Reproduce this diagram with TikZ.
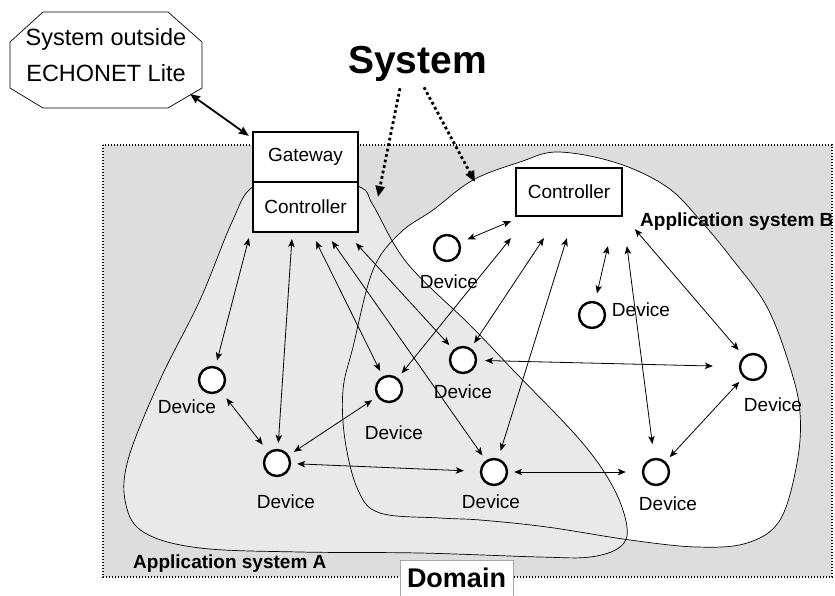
\documentclass[tikz,border=0pt]{standalone}
\usepackage{fontspec}
\setmainfont{Liberation Sans}
\usetikzlibrary{arrows.meta,calc}
\definecolor{domfill}{RGB}{221,221,221}
\definecolor{afill}{RGB}{233,233,233}
\begin{document}
\begin{tikzpicture}[x=1pt,y=-1pt,
  conn/.style={line width=0.8pt,
    {Stealth[length=8pt,width=6.5pt,inset=2pt]}-{Stealth[length=8pt,width=6.5pt,inset=2pt]}},
  dev/.style={circle, draw, line width=2.4pt, fill=white, minimum size=26pt, inner sep=0pt},
  lbl/.style={font=\fontsize{19}{22}\selectfont, inner sep=0pt},
  boxnode/.style={rectangle, draw, line width=2.2pt, fill=white, font=\fontsize{19}{22}\selectfont, inner sep=0pt},
  boldlbl/.style={font=\bfseries\fontsize{19}{22}\selectfont, inner sep=0pt},
  sysarrow/.style={line width=2.8pt, dash pattern=on 2.8pt off 2.8pt, -{Triangle[length=11pt,width=9pt]}},
  blob/.style={line width=0.7pt},
]
\useasboundingbox (0,0) rectangle (835,595);

% domain
\draw[fill=domfill, line width=1.3pt, dash pattern=on 1.3pt off 1.7pt] (103,145) rectangle (832,577);

% application system B
\fill[white] plot[smooth cycle, tension=0.6] coordinates {
 (520,162) (558,152) (617,163) (667,187) (700,220) (733,260) (767,307) (790,367)
 (800,413) (797,463) (780,520) (747,543) (697,547) (630,540) (547,527) (480,520)
 (440,518) (380,513) (358,490) (345,440) (343,390) (353,347) (373,270) (400,233)
 (433,210) (473,180)};
% application system A
\fill[afill] plot[smooth cycle, tension=0.6] coordinates {
 (254,186) (232,222) (200,300) (160,380) (128,460) (126,505) (145,533) (200,548)
 (300,552) (420,553) (540,557) (590,557) (620,547) (627,527) (613,487) (580,440)
 (513,370) (470,325) (407,263) (373,205) (360,187) (307,170)};
\draw[blob] plot[smooth cycle, tension=0.6] coordinates {
 (254,186) (232,222) (200,300) (160,380) (128,460) (126,505) (145,533) (200,548)
 (300,552) (420,553) (540,557) (590,557) (620,547) (627,527) (613,487) (580,440)
 (513,370) (470,325) (407,263) (373,205) (360,187) (307,170)};
\draw[blob] plot[smooth cycle, tension=0.6] coordinates {
 (520,162) (558,152) (617,163) (667,187) (700,220) (733,260) (767,307) (790,367)
 (800,413) (797,463) (780,520) (747,543) (697,547) (630,540) (547,527) (480,520)
 (440,518) (380,513) (358,490) (345,440) (343,390) (353,347) (373,270) (400,233)
 (433,210) (473,180)};

% boxes
\node[boxnode, minimum width=105pt, minimum height=50pt] (gw) at (305.5,157) {Gateway};
\node[boxnode, minimum width=105pt, minimum height=50pt] (ctrlA) at (305.5,207) {Controller};
\node[boxnode, minimum width=106pt, minimum height=48pt] (ctrlB) at (569,192) {Controller};

% devices
\node[dev] (d1) at (212,380) {};
\node[dev] (d2) at (277,463) {};
\node[dev] (d3) at (389,389) {};
\node[dev] (d4) at (463,360) {};
\node[dev] (d5) at (494,472) {};
\node[dev] (d6) at (656,472) {};
\node[dev] (d7) at (753,367) {};
\node[dev] (d8) at (592,315) {};
\node[dev] (d9) at (447,248) {};

\node[lbl] (d1l) at (187,407) {Device};
\node[lbl] (d2l) at (286,502) {Device};
\node[lbl] (d3l) at (394,433) {Device};
\node[lbl] (d4l) at (463,392) {Device};
\node[lbl] (d5l) at (491,502) {Device};
\node[lbl] (d6l) at (668,504) {Device};
\node[lbl] (d7l) at (773,405) {Device};
\node[lbl] (d8l) at (641,310) {Device};
\node[lbl] (d9l) at (449,282) {Device};

% controller A connectors
\draw[conn, shorten <=6pt] (d1) -- ([xshift=-3pt,yshift=-5pt]ctrlA.south west);
\draw[conn, shorten <=6pt] (d2) -- ([xshift=40pt,yshift=-6pt]ctrlA.south west);
\draw[conn, shorten <=6pt] (d3) -- ([xshift=64pt,yshift=-8pt]ctrlA.south west);
\draw[conn, shorten <=6pt] (d5) -- ([xshift=80pt,yshift=-8pt]ctrlA.south west);
\draw[conn, shorten <=6pt] (d4) -- ([xshift=104pt,yshift=-10pt]ctrlA.south west);

% controller B connectors
\draw[conn, shorten <=8pt] (d9) -- ([xshift=-4pt,yshift=-4pt]ctrlB.south west);
\draw[conn, shorten <=6pt] (d3) -- ([xshift=-4pt,yshift=-21pt]ctrlB.south west);
\draw[conn, shorten <=6pt] (d4) -- ([xshift=29pt,yshift=-21pt]ctrlB.south west);
\draw[conn, shorten <=8pt] (d5) -- ([xshift=52pt,yshift=-21pt]ctrlB.south west);
\draw[conn, shorten <=8pt] (d8) -- ([xshift=93pt,yshift=-29pt]ctrlB.south west);
\draw[conn, shorten <=14pt] (d6) -- ([xshift=112pt,yshift=-29pt]ctrlB.south west);
\draw[conn, shorten <=8pt] (d7) -- ([xshift=120pt,yshift=-12pt]ctrlB.south west);

% device to device
\draw[conn, shorten <=9pt, shorten >=9pt] (d1) -- (d2);
\draw[conn, shorten <=6pt, shorten >=6pt] (d2) -- (d3);
\draw[conn, shorten <=6pt, shorten >=16pt] (d2) -- (d5);
\draw[conn, shorten <=6pt, shorten >=16pt] (d5) -- (d6);
\draw[conn, shorten <=6pt, shorten >=6pt] (d6) -- (d7);
\draw[conn, shorten <=8pt, shorten >=26pt] (d4) -- (d7);

% domain label
\draw[draw=gray!70, fill=white, line width=0.5pt] (400,560) rectangle (513,602);
\node[font=\bfseries\fontsize{27}{30}\selectfont, inner sep=0pt, anchor=base] (domain) at (456.5,587) {Domain};

\node[boldlbl, anchor=base west] (appA) at (133,568) {Application system A};
\node[boldlbl, anchor=base west] (appB) at (640,226) {Application system B};

% system label
\node[font=\bfseries\fontsize{39}{42}\selectfont, inner sep=0pt, anchor=base] (sys) at (417.5,73) {System};
\coordinate (sysA) at (378,197);
\coordinate (sysB) at (475,182);
\draw[sysarrow] ([xshift=-17.5pt,yshift=-7pt]sys.south) -- (sysA);
\draw[sysarrow] ([xshift=6.5pt,yshift=-6pt]sys.south) -- (sysB);

% outside system octagon
\draw[line width=0.7pt, fill=white] (43,12) -- (168,12) -- (202,42) -- (202,88) -- (168,108) -- (43,108) -- (10,88) -- (10,42) -- cycle;
\node[font=\fontsize{23.5}{36}\selectfont, align=center, inner sep=0pt] (ext) at (106,55) {System outside\\ECHONET Lite};
\coordinate (extp) at (190,94);
\draw[line width=1.8pt, {Stealth[length=10pt,width=8pt,inset=1pt]}-{Stealth[length=10pt,width=8pt,inset=1pt]}]
  (extp) -- ([xshift=-3pt,yshift=-5pt]gw.north west);
\end{tikzpicture}
\end{document}
